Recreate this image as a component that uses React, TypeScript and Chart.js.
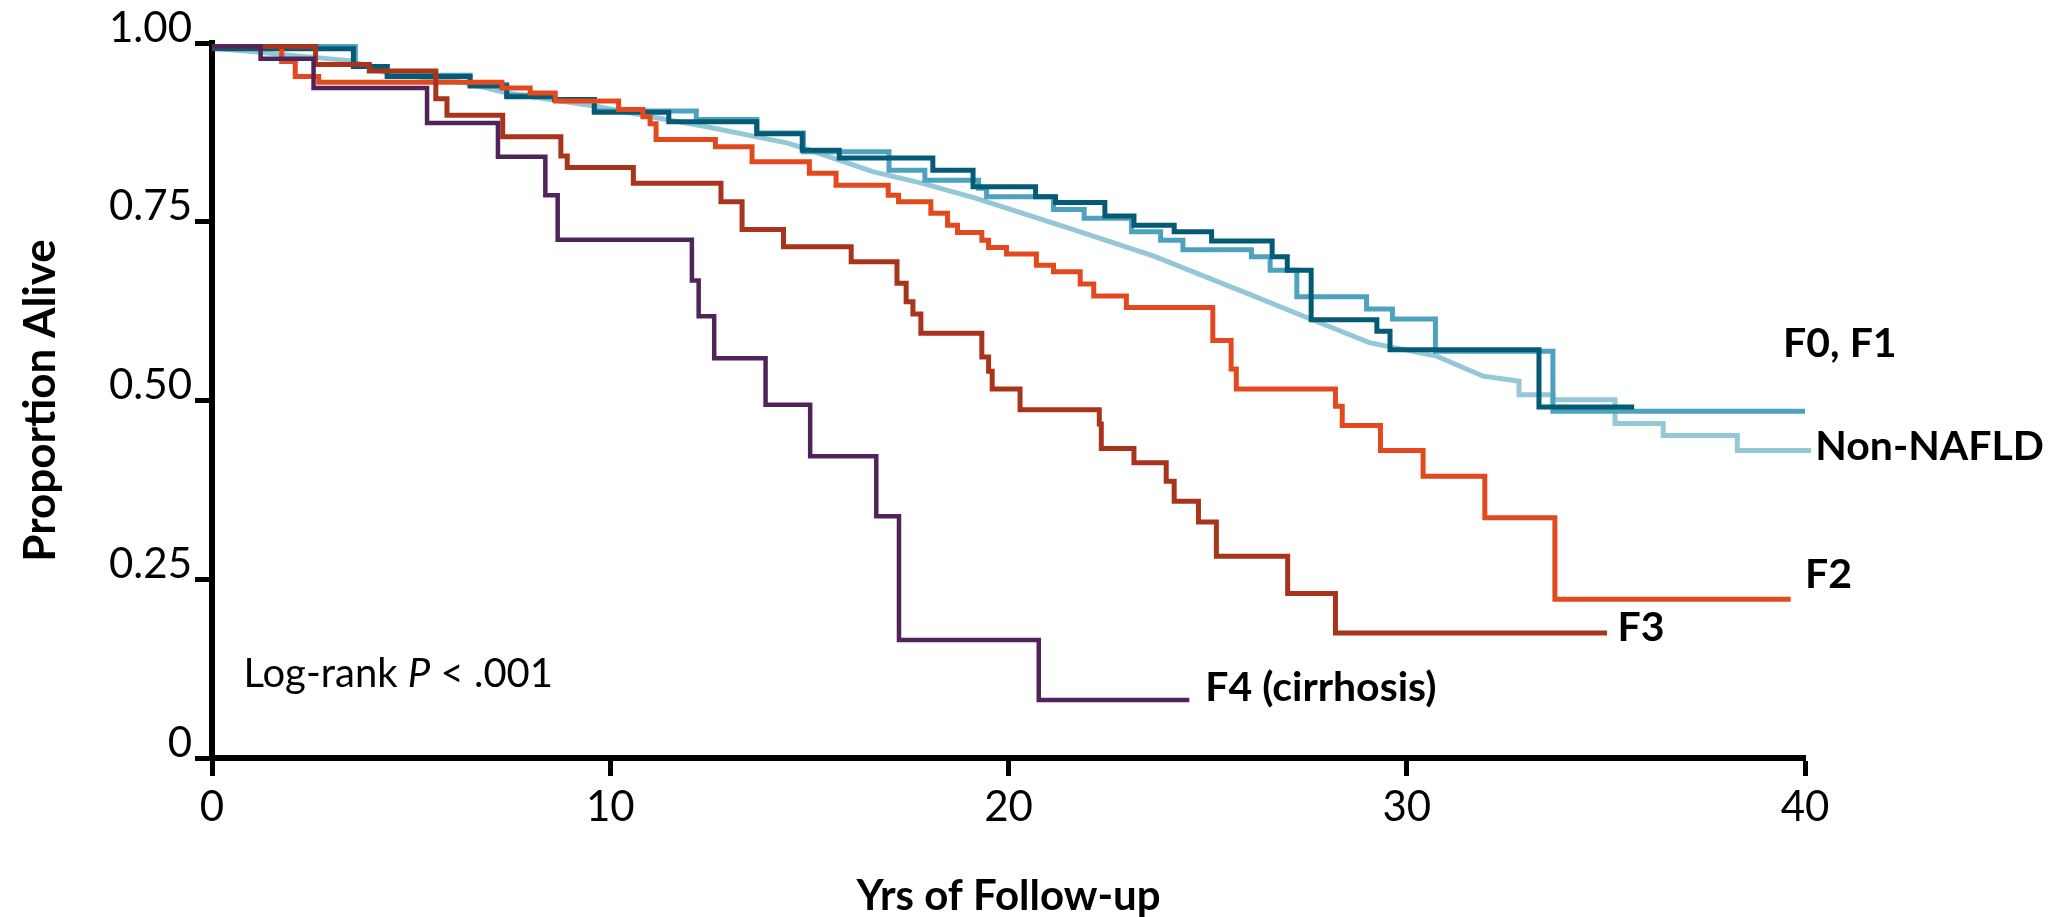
import React, { useEffect, useRef } from 'react';
import { Chart, registerables } from 'chart.js';

Chart.register(...registerables);

const FONT = 'Lato, "Open Sans", "DejaVu Sans", sans-serif';

// ---- axis ticks ----
const xTickValues = [0, 10, 20, 30, 40];
const yTickValues = [0, 0.25, 0.5, 0.75, 1];
const yTickLabels = ['0', '0.25', '0.50', '0.75', '1.00'];

// ---- Kaplan-Meier series (time in years, proportion alive from that time on) ----
const f4Times = [0, 1.22, 2.55, 5.4, 7.18, 8.37, 8.68, 12.05, 12.22, 12.61, 13.9, 15.02, 16.68, 17.25, 20.76, 24.54];
const f4Surv = [0.995, 0.978, 0.937, 0.888, 0.841, 0.787, 0.725, 0.668, 0.618, 0.559, 0.494, 0.422, 0.338, 0.165, 0.081, 0.081];

const f3Times = [0, 2.6, 3.95, 5.62, 5.9, 7.3, 8.76, 8.92, 10.58, 12.78, 13.31, 14.35, 16.05, 17.2, 17.43, 17.6, 17.8, 19.33, 19.5, 19.59, 20.29, 22.28, 22.33, 23.15, 23.96, 24.16, 24.77, 25.22, 27.01, 28.21, 35.03];
const f3Surv = [0.995, 0.97, 0.961, 0.922, 0.899, 0.869, 0.842, 0.826, 0.804, 0.778, 0.739, 0.715, 0.694, 0.664, 0.638, 0.621, 0.594, 0.561, 0.541, 0.516, 0.487, 0.467, 0.433, 0.413, 0.387, 0.359, 0.33, 0.282, 0.23, 0.175, 0.175];

const f2Times = [0, 1.75, 2.09, 2.68, 7.28, 7.99, 8.62, 10.21, 10.82, 11.0, 11.15, 12.64, 13.56, 15.0, 15.67, 16.98, 17.24, 18.05, 18.47, 18.72, 19.33, 19.5, 19.95, 20.7, 21.13, 21.8, 22.14, 22.96, 25.13, 25.59, 25.72, 28.21, 28.38, 29.34, 30.41, 31.96, 33.72, 39.64];
const f2Surv = [0.995, 0.974, 0.953, 0.945, 0.937, 0.93, 0.919, 0.907, 0.897, 0.887, 0.865, 0.855, 0.834, 0.818, 0.801, 0.787, 0.778, 0.762, 0.745, 0.735, 0.724, 0.714, 0.705, 0.689, 0.68, 0.663, 0.646, 0.63, 0.584, 0.544, 0.516, 0.492, 0.465, 0.43, 0.394, 0.336, 0.222, 0.222];

const f0Times = [0, 3.55, 4.4, 6.48, 7.4, 8.6, 9.6, 11.47, 13.68, 14.82, 15.75, 18.1, 19.11, 20.68, 21.18, 22.42, 23.15, 24.16, 25.1, 26.62, 27.0, 27.6, 29.25, 29.58, 33.32, 35.71];
const f0Surv = [0.992, 0.967, 0.953, 0.94, 0.925, 0.921, 0.903, 0.89, 0.873, 0.85, 0.839, 0.822, 0.799, 0.785, 0.777, 0.758, 0.745, 0.736, 0.723, 0.701, 0.682, 0.613, 0.597, 0.571, 0.491, 0.491];

const f1Times = [0, 3.6, 4.4, 6.48, 7.4, 8.6, 9.6, 12.16, 13.68, 14.85, 17.0, 17.9, 19.25, 19.45, 21.13, 21.9, 23.09, 23.82, 24.38, 26.1, 26.57, 27.24, 28.99, 29.64, 30.72, 33.67, 40.0];
const f1Surv = [0.995, 0.967, 0.955, 0.942, 0.927, 0.921, 0.905, 0.893, 0.874, 0.848, 0.822, 0.808, 0.797, 0.785, 0.767, 0.755, 0.736, 0.724, 0.711, 0.701, 0.682, 0.645, 0.628, 0.614, 0.569, 0.485, 0.485];

// Non-NAFLD: large cohort, drawn as a polyline (nearly smooth, steps at the tail)
const nonNafldTimes = [0, 3.5, 4.4, 6.4, 7.4, 9.6, 11.4, 12.33, 14.46, 15.02, 16.59, 17.82, 19.17, 21.63, 23.65, 26.07, 27.63, 29.06, 30.75, 31.92, 32.82, 32.82, 33.67, 33.67, 35.23, 35.23, 36.44, 36.44, 38.3, 38.3, 40.15];
const nonNafldSurv = [0.993, 0.975, 0.958, 0.944, 0.93, 0.912, 0.893, 0.884, 0.86, 0.85, 0.82, 0.804, 0.783, 0.739, 0.702, 0.648, 0.613, 0.581, 0.562, 0.534, 0.527, 0.508, 0.508, 0.501, 0.501, 0.468, 0.468, 0.451, 0.451, 0.43, 0.43];

const seriesNames = ['F4 (cirrhosis)', 'F3', 'F2', 'F0', 'F1', 'Non-NAFLD'];
const seriesColors = ['#51235B', '#A8341B', '#E2491F', '#055B75', '#4EA2BE', '#94C8D6'];
const seriesWidths = [4.5, 5, 5, 5, 5, 5];

// ---- text annotations (anchored in data units) ----
const curveLabels = ['F0, F1', 'Non-NAFLD', 'F2', 'F3', 'F4 (cirrhosis)'];
const curveLabelX = [39.45, 40.26, 40.0, 35.29, 24.94];
const curveLabelY = [0.561, 0.417, 0.238, 0.163, 0.08];
const logRankParts = ['Log-rank ', 'P', ' < .001'];
const logRankItalic = [false, true, false];
const logRankX = 0.79;
const logRankY = 0.1;

const toPoints = (t: number[], s: number[]) => t.map((v, i) => ({ x: v, y: s[i] }));

const labelPlugin = {
  id: 'kmLabels',
  afterDraw(chart: any) {
    const { ctx, scales } = chart;
    const xs = scales.x;
    const ys = scales.y;
    ctx.save();
    ctx.fillStyle = '#000';
    ctx.textAlign = 'left';
    ctx.textBaseline = 'alphabetic';
    ctx.font = `bold 41px ${FONT}`;
    curveLabels.forEach((txt, i) => {
      ctx.fillText(txt, xs.getPixelForValue(curveLabelX[i]), ys.getPixelForValue(curveLabelY[i]));
    });
    let px = xs.getPixelForValue(logRankX);
    const py = ys.getPixelForValue(logRankY);
    logRankParts.forEach((txt, i) => {
      ctx.font = `${logRankItalic[i] ? 'italic ' : ''}40px ${FONT}`;
      ctx.fillText(txt, px, py);
      px += ctx.measureText(txt).width;
    });
    ctx.restore();
  },
};

export default function App() {
  const canvasRef = useRef<HTMLCanvasElement | null>(null);

  useEffect(() => {
    const canvas = canvasRef.current;
    if (!canvas) return;
    const all = [
      toPoints(f4Times, f4Surv),
      toPoints(f3Times, f3Surv),
      toPoints(f2Times, f2Surv),
      toPoints(f0Times, f0Surv),
      toPoints(f1Times, f1Surv),
      toPoints(nonNafldTimes, nonNafldSurv),
    ];
    const chart = new Chart(canvas, {
      type: 'line',
      data: {
        datasets: all.map((pts, i) => ({
          label: seriesNames[i],
          data: pts,
          borderColor: seriesColors[i],
          backgroundColor: seriesColors[i],
          borderWidth: seriesWidths[i],
          pointRadius: 0,
          pointHoverRadius: 0,
          fill: false,
          tension: 0,
          stepped: i < 5 ? 'before' : false,
          borderJoinStyle: 'miter',
          borderCapStyle: 'butt',
          clip: false,
        })) as any,
      },
      options: {
        responsive: false,
        animation: false,
        devicePixelRatio: 1,
        layout: { padding: { left: 0, top: 43, right: 256, bottom: 0 } },
        plugins: {
          legend: { display: false },
          tooltip: { enabled: false },
          title: { display: false },
        },
        scales: {
          x: {
            type: 'linear',
            min: 0,
            max: 40,
            z: 1,
            afterBuildTicks: (s: any) => {
              s.ticks = xTickValues.map((v) => ({ value: v }));
            },
            afterFit: (s: any) => {
              s.height = 159;
            },
            ticks: {
              color: '#000',
              font: { family: FONT, size: 42 },
              padding: 6,
              maxRotation: 0,
              autoSkip: false,
            },
            grid: {
              drawOnChartArea: false,
              drawTicks: true,
              tickLength: 18,
              tickWidth: 5,
              tickColor: '#000',
            },
            border: { display: true, color: '#000', width: 6 },
            title: {
              display: true,
              text: 'Yrs of Follow-up',
              color: '#000',
              font: { family: FONT, size: 42, weight: 'bold', lineHeight: 1 },
              padding: { top: 0, bottom: 0 },
            },
          },
          y: {
            type: 'linear',
            min: 0,
            max: 1,
            z: 1,
            afterBuildTicks: (s: any) => {
              s.ticks = yTickValues.map((v) => ({ value: v }));
            },
            afterFit: (s: any) => {
              s.width = 212;
            },
            ticks: {
              color: '#000',
              font: { family: FONT, size: 42 },
              padding: 3,
              labelOffset: -15,
              autoSkip: false,
              callback: (v: any) => {
                const idx = yTickValues.indexOf(Number(v));
                return idx >= 0 ? yTickLabels[idx] : '';
              },
            },
            grid: {
              drawOnChartArea: false,
              drawTicks: true,
              tickLength: 17,
              tickWidth: 5,
              tickColor: '#000',
            },
            border: { display: true, color: '#000', width: 6 },
            title: {
              display: true,
              text: 'Proportion Alive',
              color: '#000',
              font: { family: FONT, size: 44, weight: 'bold', lineHeight: 1 },
              padding: { top: 19, bottom: 0 },
            },
          },
        },
      } as any,
      plugins: [labelPlugin],
    });
    return () => chart.destroy();
  }, []);

  return (
    <div style={{ position: 'fixed', left: 0, top: 0, width: 2061, height: 917, background: '#fff' }}>
      <canvas ref={canvasRef} width={2061} height={917} style={{ display: 'block' }} />
    </div>
  );
}
